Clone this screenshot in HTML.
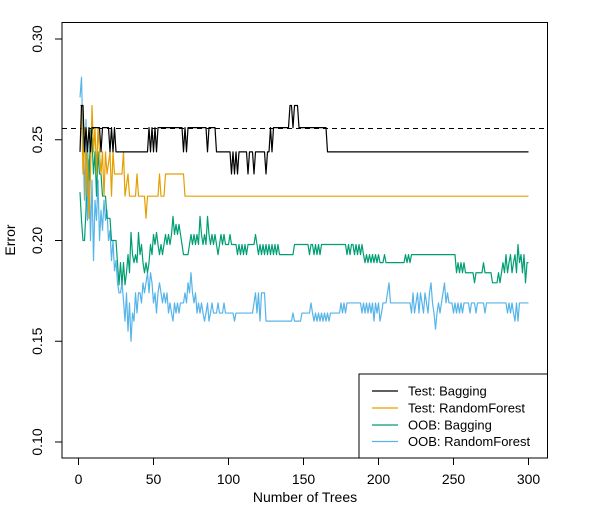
<!DOCTYPE html>
<html><head><meta charset="utf-8"><style>
html,body{margin:0;padding:0;background:#fff}
svg{display:block;font-family:"Liberation Sans",Arial,sans-serif}
</style></head><body>
<svg id="chart" width="605" height="513" viewBox="0 0 605 513" xmlns="http://www.w3.org/2000/svg">
<rect x="0" y="0" width="605" height="513" fill="#fff"/>
<g id="series"></g>
<rect x="62" y="22.5" width="485.5" height="435.5" fill="none" stroke="#000" stroke-width="1"/>
<g id="xaxis"></g>
<g id="yaxis"></g>
<text x="305" y="502" font-size="14" text-anchor="middle">Number of Trees</text>
<text transform="translate(15,240) rotate(-90)" font-size="14" text-anchor="middle">Error</text>
<g id="legend">
<rect x="359" y="374" width="188.5" height="84" fill="#fff" stroke="#000" stroke-width="1"/>
</g>
</svg>
<script>
const xTicks = [0, 50, 100, 150, 200, 250, 300];
const yTicks = [0.10, 0.15, 0.20, 0.25, 0.30];
const yTickLabels = ["0.10", "0.15", "0.20", "0.25", "0.30"];
const refLine = 0.2556;
const seriesNames = ["Test: Bagging", "Test: RandomForest", "OOB: Bagging", "OOB: RandomForest"];

const blackTrees = [1,2,3,4,5,6,7,8,9,14,15,16,20,21,22,23,24,25,46,47,48,49,50,51,52,53,69,70,71,72,73,85,86,87,91,92,101,102,103,104,105,106,107,112,113,114,116,117,118,124,125,126,127,128,129,130,140,141,142,143,144,146,147,165,166,300];
const blackValues = [.244,.267,.267,.244,.256,.244,.256,.244,.256,.256,.244,.256,.256,.244,.256,.244,.256,.244,.244,.256,.244,.256,.244,.256,.244,.256,.256,.244,.256,.244,.256,.256,.244,.256,.256,.244,.244,.233,.244,.233,.244,.233,.244,.244,.233,.244,.244,.233,.244,.244,.233,.244,.244,.256,.244,.256,.256,.267,.267,.256,.267,.267,.256,.256,.244,.244];

const orangeTrees = [1,2,3,4,5,6,7,8,9,10,11,12,13,14,15,16,17,18,19,21,22,23,24,29,30,31,33,34,38,39,40,44,45,46,53,54,55,57,58,70,71,300];
const orangeValues = [.267,.267,.233,.256,.222,.244,.211,.233,.267,.244,.256,.233,.256,.244,.233,.244,.222,.244,.233,.244,.222,.244,.233,.233,.244,.222,.233,.222,.222,.233,.222,.222,.211,.222,.222,.233,.222,.222,.233,.233,.222,.222];

const greenTrees = [1,2,3,4,5,6,7,8,9,10,11,12,13,14,15,16,18,19,21,22,25,26,27,28,29,30,31,32,33,34,35,36,37,38,39,40,41,42,43,44,45,46,47,48,49,50,51,52,53,54,55,56,57,58,59,60,61,62,63,64,65,66,67,68,69,70,73,74,75,76,77,78,79,80,81,82,83,84,85,86,87,88,89,90,91,92,93,94,95,96,97,98,100,101,102,105,106,107,108,109,110,111,112,113,114,117,118,119,120,121,122,123,124,125,126,127,128,129,130,131,132,133,134,136,143,144,153,154,155,156,157,158,159,160,161,162,178,179,180,181,182,183,184,185,186,187,188,189,190,191,192,193,194,195,196,197,198,199,200,201,203,204,205,207,217,218,219,220,221,222,251,252,253,254,255,256,257,258,263,264,265,269,270,271,275,276,279,280,281,282,283,284,285,286,287,288,289,290,291,292,293,294,295,296,297,298,299,300];
const greenValues = [.224,.21,.2,.2,.215,.245,.23,.255,.25,.233,.244,.222,.244,.233,.233,.222,.222,.211,.211,.2,.2,.189,.178,.189,.178,.189,.178,.184,.193,.184,.204,.193,.189,.193,.189,.204,.193,.198,.189,.184,.189,.184,.189,.198,.193,.203,.198,.204,.198,.193,.198,.193,.198,.203,.198,.203,.198,.203,.212,.203,.208,.203,.208,.203,.198,.193,.193,.198,.203,.198,.203,.198,.203,.198,.212,.203,.198,.203,.198,.212,.203,.198,.203,.198,.203,.198,.193,.198,.203,.198,.203,.198,.198,.203,.198,.198,.193,.198,.193,.198,.193,.198,.193,.198,.198,.198,.203,.198,.193,.198,.193,.198,.193,.198,.193,.198,.193,.198,.193,.198,.193,.198,.193,.193,.193,.198,.198,.193,.198,.198,.193,.198,.193,.198,.193,.198,.198,.193,.198,.193,.198,.198,.193,.198,.193,.198,.193,.198,.193,.189,.193,.189,.193,.189,.193,.189,.193,.189,.193,.189,.189,.193,.189,.189,.189,.193,.189,.193,.189,.193,.193,.184,.189,.184,.189,.184,.189,.184,.184,.179,.184,.184,.189,.184,.184,.179,.179,.184,.179,.184,.189,.184,.193,.184,.189,.193,.184,.189,.193,.184,.198,.189,.193,.184,.193,.179,.189,.189];

const blueTrees = [1,2,3,4,5,6,7,8,9,10,11,12,13,14,15,16,17,18,19,20,21,22,23,24,25,26,27,28,29,30,31,32,33,34,35,36,37,38,39,40,41,42,43,44,45,46,47,48,49,50,51,52,53,54,55,56,57,58,59,60,61,62,63,64,65,66,67,68,70,71,72,73,74,75,76,77,78,79,80,81,82,83,84,85,86,87,88,89,90,92,93,94,96,97,98,100,103,104,105,116,117,118,119,120,121,122,124,125,142,143,144,148,149,154,155,156,157,158,159,160,161,162,163,164,165,166,167,168,174,175,176,177,178,179,188,189,190,191,192,193,194,195,196,197,198,199,200,201,202,203,205,206,207,208,221,222,223,224,225,226,227,228,229,230,231,232,233,234,235,236,237,238,239,240,241,242,243,244,245,246,247,249,250,251,252,253,254,255,256,257,260,261,262,264,265,266,270,271,272,285,286,287,288,289,290,291,292,293,294,300];
const blueValues = [.271,.281,.25,.22,.26,.21,.24,.2,.23,.19,.22,.21,.23,.2,.215,.205,.22,.21,.215,.2,.205,.19,.2,.185,.19,.179,.174,.174,.179,.17,.16,.174,.155,.169,.15,.164,.16,.174,.164,.174,.174,.169,.179,.174,.179,.184,.174,.184,.179,.169,.174,.164,.174,.179,.174,.169,.174,.169,.174,.164,.169,.164,.16,.169,.164,.169,.164,.169,.169,.174,.169,.179,.174,.184,.174,.169,.174,.164,.169,.164,.169,.164,.16,.164,.169,.16,.164,.169,.164,.164,.169,.164,.164,.169,.164,.164,.164,.16,.164,.164,.169,.174,.164,.174,.16,.174,.174,.16,.16,.164,.16,.16,.164,.164,.169,.164,.16,.164,.16,.164,.16,.164,.16,.164,.16,.164,.16,.164,.164,.169,.164,.169,.164,.169,.169,.164,.169,.164,.169,.164,.169,.164,.169,.16,.169,.164,.169,.16,.164,.169,.169,.174,.179,.169,.169,.164,.174,.164,.169,.174,.164,.174,.169,.164,.174,.169,.164,.174,.179,.169,.164,.156,.164,.169,.164,.169,.174,.179,.169,.174,.169,.169,.164,.169,.164,.169,.164,.169,.164,.169,.169,.164,.169,.169,.164,.169,.169,.164,.169,.169,.164,.169,.164,.169,.164,.16,.169,.16,.169,.169];

const NS = "http://www.w3.org/2000/svg";
function xScale(t){ return 78.5 + t * 1.5; }
function yScale(e){ return 39 + (0.30 - e) * 2015; }
function mk(tag, attrs){ const el = document.createElementNS(NS, tag); for (const k in attrs) el.setAttribute(k, attrs[k]); return el; }

const seriesLayer = document.getElementById('series');
const xAxis = document.getElementById('xaxis');
const yAxis = document.getElementById('yaxis');
const legend = document.getElementById('legend');

const ref = mk('line', {x1: 62, x2: 547.5, y1: yScale(refLine), y2: yScale(refLine), stroke: '#000', 'stroke-width': 1, 'stroke-dasharray': '5,4'});


seriesLayer.appendChild(ref);

const seriesList = [
  {trees: blackTrees, values: blackValues, color: '#000000', key: 'test-bagging'},
  {trees: orangeTrees, values: orangeValues, color: '#E69F00', key: 'test-randomforest'},
  {trees: greenTrees, values: greenValues, color: '#009E73', key: 'oob-bagging'},
  {trees: blueTrees, values: blueValues, color: '#56B4E9', key: 'oob-randomforest'}
];
[3, 2, 1, 0].forEach(function(i){
  const s = seriesList[i];
  const pts = s.trees.map(function(t, j){ return xScale(t).toFixed(2) + ',' + yScale(s.values[j]).toFixed(2); }).join(' ');
  const pl = mk('polyline', {points: pts, fill: 'none', stroke: s.color, 'stroke-width': 1.2, 'stroke-linejoin': 'round'});
  
  
  seriesLayer.appendChild(pl);
});

xTicks.forEach(function(t){
  const x = xScale(t);
  const tk = mk('line', {x1: x, x2: x, y1: 458, y2: 465, stroke: '#000', 'stroke-width': 1});
  
  
  xAxis.appendChild(tk);
  const lb = mk('text', {x: x, y: 484, 'font-size': 14, 'text-anchor': 'middle'});
  lb.textContent = String(t);
  
  
  xAxis.appendChild(lb);
});
yTicks.forEach(function(v, i){
  const y = yScale(v);
  const tk = mk('line', {x1: 55, x2: 62, y1: y, y2: y, stroke: '#000', 'stroke-width': 1});
  
  
  yAxis.appendChild(tk);
  const lb = mk('text', {transform: 'translate(42,' + y + ') rotate(-90)', 'font-size': 14, 'text-anchor': 'middle'});
  lb.textContent = yTickLabels[i];
  
  
  yAxis.appendChild(lb);
});

const legendY = [391, 408, 425, 441.5];
seriesList.forEach(function(s, i){
  const ln = mk('line', {x1: 372, x2: 398, y1: legendY[i], y2: legendY[i], stroke: s.color, 'stroke-width': 1.2});
  
  
  legend.appendChild(ln);
  const tx = mk('text', {x: 408, y: legendY[i] + 4.5, 'font-size': 13});
  tx.textContent = seriesNames[i];
  
  
  legend.appendChild(tx);
});
</script>
</body></html>
